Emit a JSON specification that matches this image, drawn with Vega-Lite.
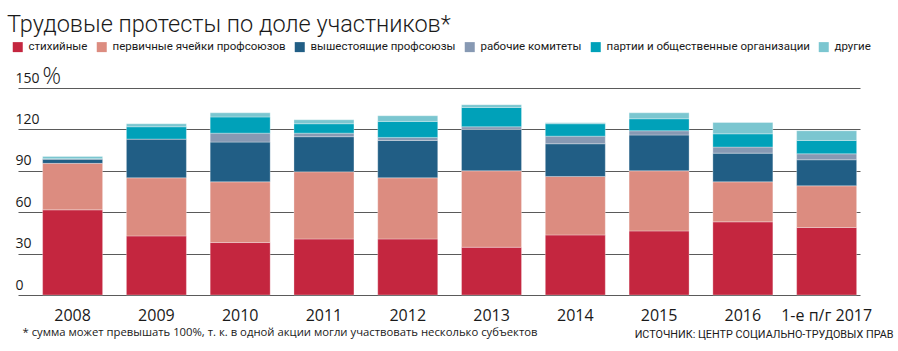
{
  "$schema": "https://vega.github.io/schema/vega-lite/v6.json",
  "autosize": "none",
  "width": 842,
  "height": 207,
  "padding": {"left": 18, "top": 88, "right": 38, "bottom": 56},
  "background": "white",
  "config": {"font": "Open Sans", "view": {"stroke": null}},
  "title": {
    "text": "Трудовые протесты по доле участников*",
    "anchor": "start",
    "frame": "group",
    "font": "Roboto",
    "fontSize": 23.5,
    "fontWeight": 300,
    "color": "#1a1a1a",
    "dx": -11,
    "dy": -1
  },
  "datasets": {
    "protests": [
      {"year": "2008", "type": "стихийные", "k": 1, "value": 61.7},
      {"year": "2008", "type": "первичные ячейки профсоюзов", "k": 2, "value": 33.7},
      {"year": "2008", "type": "вышестоящие профсоюзы", "k": 3, "value": 3.1},
      {"year": "2008", "type": "рабочие комитеты", "k": 4, "value": 0},
      {"year": "2008", "type": "партии и общественные организации", "k": 5, "value": 0.3},
      {"year": "2008", "type": "другие", "k": 6, "value": 1.6},
      {"year": "2009", "type": "стихийные", "k": 1, "value": 42.8},
      {"year": "2009", "type": "первичные ячейки профсоюзов", "k": 2, "value": 42.1},
      {"year": "2009", "type": "вышестоящие профсоюзы", "k": 3, "value": 28.1},
      {"year": "2009", "type": "рабочие комитеты", "k": 4, "value": 0},
      {"year": "2009", "type": "партии и общественные организации", "k": 5, "value": 8.9},
      {"year": "2009", "type": "другие", "k": 6, "value": 2.2},
      {"year": "2010", "type": "стихийные", "k": 1, "value": 38},
      {"year": "2010", "type": "первичные ячейки профсоюзов", "k": 2, "value": 44},
      {"year": "2010", "type": "вышестоящие профсоюзы", "k": 3, "value": 28.8},
      {"year": "2010", "type": "рабочие комитеты", "k": 4, "value": 6.5},
      {"year": "2010", "type": "партии и общественные организации", "k": 5, "value": 11.7},
      {"year": "2010", "type": "другие", "k": 6, "value": 3},
      {"year": "2011", "type": "стихийные", "k": 1, "value": 40.6},
      {"year": "2011", "type": "первичные ячейки профсоюзов", "k": 2, "value": 48.7},
      {"year": "2011", "type": "вышестоящие профсоюзы", "k": 3, "value": 25.4},
      {"year": "2011", "type": "рабочие комитеты", "k": 4, "value": 2.6},
      {"year": "2011", "type": "партии и общественные организации", "k": 5, "value": 6.8},
      {"year": "2011", "type": "другие", "k": 6, "value": 2.9},
      {"year": "2012", "type": "стихийные", "k": 1, "value": 40.6},
      {"year": "2012", "type": "первичные ячейки профсоюзов", "k": 2, "value": 44.3},
      {"year": "2012", "type": "вышестоящие профсоюзы", "k": 3, "value": 27.1},
      {"year": "2012", "type": "рабочие комитеты", "k": 4, "value": 2.2},
      {"year": "2012", "type": "партии и общественные организации", "k": 5, "value": 11.6},
      {"year": "2012", "type": "другие", "k": 6, "value": 4.1},
      {"year": "2013", "type": "стихийные", "k": 1, "value": 34.6},
      {"year": "2013", "type": "первичные ячейки профсоюзов", "k": 2, "value": 55.4},
      {"year": "2013", "type": "вышестоящие профсоюзы", "k": 3, "value": 30},
      {"year": "2013", "type": "рабочие комитеты", "k": 4, "value": 1.9},
      {"year": "2013", "type": "партии и общественные организации", "k": 5, "value": 14},
      {"year": "2013", "type": "другие", "k": 6, "value": 2},
      {"year": "2014", "type": "стихийные", "k": 1, "value": 43.5},
      {"year": "2014", "type": "первичные ячейки профсоюзов", "k": 2, "value": 42.4},
      {"year": "2014", "type": "вышестоящие профсоюзы", "k": 3, "value": 23.7},
      {"year": "2014", "type": "рабочие комитеты", "k": 4, "value": 5.5},
      {"year": "2014", "type": "партии и общественные организации", "k": 5, "value": 9},
      {"year": "2014", "type": "другие", "k": 6, "value": 0.7},
      {"year": "2015", "type": "стихийные", "k": 1, "value": 46.4},
      {"year": "2015", "type": "первичные ячейки профсоюзов", "k": 2, "value": 43.6},
      {"year": "2015", "type": "вышестоящие профсоюзы", "k": 3, "value": 25.9},
      {"year": "2015", "type": "рабочие комитеты", "k": 4, "value": 3.1},
      {"year": "2015", "type": "партии и общественные организации", "k": 5, "value": 8.7},
      {"year": "2015", "type": "другие", "k": 6, "value": 4.3},
      {"year": "2016", "type": "стихийные", "k": 1, "value": 53},
      {"year": "2016", "type": "первичные ячейки профсоюзов", "k": 2, "value": 29},
      {"year": "2016", "type": "вышестоящие профсоюзы", "k": 3, "value": 20.8},
      {"year": "2016", "type": "рабочие комитеты", "k": 4, "value": 4.4},
      {"year": "2016", "type": "партии и общественные организации", "k": 5, "value": 9.6},
      {"year": "2016", "type": "другие", "k": 6, "value": 8.2},
      {"year": "1-е п/г 2017", "type": "стихийные", "k": 1, "value": 48.9},
      {"year": "1-е п/г 2017", "type": "первичные ячейки профсоюзов", "k": 2, "value": 30.2},
      {"year": "1-е п/г 2017", "type": "вышестоящие профсоюзы", "k": 3, "value": 18.9},
      {"year": "1-е п/г 2017", "type": "рабочие комитеты", "k": 4, "value": 4.3},
      {"year": "1-е п/г 2017", "type": "партии и общественные организации", "k": 5, "value": 9.7},
      {"year": "1-е п/г 2017", "type": "другие", "k": 6, "value": 7}
    ],
    "unit": [{"sign": "%"}]
  },
  "layer": [
    {
      "data": {"name": "protests"},
      "mark": {"type": "bar", "stroke": "#ffffff", "strokeWidth": 0.5, "strokeOpacity": 0.6},
      "encoding": {
        "x": {
          "field": "year",
          "type": "nominal",
          "scale": {
            "domain": ["2008", "2009", "2010", "2011", "2012", "2013", "2014", "2015", "2016", "1-е п/г 2017"],
            "paddingInner": 0.284,
            "paddingOuter": 0.167,
            "align": 0.88
          },
          "axis": {
            "orient": "bottom",
            "labelAngle": 0,
            "labelFontSize": 16,
            "labelColor": "#1a1a1a",
            "labelPadding": 12,
            "ticks": false,
            "tickSize": 0,
            "domain": false,
            "title": "* сумма может превышать 100%, т. к. в одной акции могли участвовать несколько субъектов",
            "titleFontSize": 11.3,
            "titleFontWeight": "normal",
            "titleColor": "#1a1a1a",
            "titleAlign": "left",
            "titleAnchor": "start",
            "titleBaseline": "alphabetic",
            "titleX": 4,
            "titleY": 40
          }
        },
        "y": {
          "field": "value",
          "type": "quantitative",
          "stack": "zero",
          "scale": {"domain": [0, 150], "nice": false},
          "axis": {
            "values": [0, 30, 60, 90, 120, 150],
            "orient": "left",
            "grid": true,
            "gridColor": "#5a5a5a",
            "gridWidth": 1.2,
            "domain": false,
            "ticks": false,
            "tickSize": 0,
            "labelAlign": "left",
            "labelBaseline": "alphabetic",
            "labelPadding": 3,
            "labelOffset": -6,
            "labelFontSize": 14,
            "labelColor": "#1a1a1a",
            "title": "ИСТОЧНИК: ЦЕНТР СОЦИАЛЬНО-ТРУДОВЫХ ПРАВ",
            "titleFont": "Roboto",
            "titleAngle": 0,
            "titleAlign": "right",
            "titleBaseline": "alphabetic",
            "titleFontSize": 10.8,
            "titleFontWeight": "normal",
            "titleColor": "#1a1a1a",
            "titleX": 875,
            "titleY": 249
          }
        },
        "color": {
          "field": "type",
          "type": "nominal",
          "scale": {
            "domain": ["стихийные", "первичные ячейки профсоюзов", "вышестоящие профсоюзы", "рабочие комитеты", "партии и общественные организации", "другие"],
            "range": ["#c4263f", "#dc8c80", "#215e85", "#8799b3", "#00a1b9", "#7bc6d0"]
          },
          "legend": {
            "title": null,
            "orient": "none",
            "legendX": -6,
            "legendY": -47,
            "direction": "horizontal",
            "columns": 6,
            "symbolType": "square",
            "symbolSize": 100,
            "symbolStrokeWidth": 0,
            "symbolOpacity": 1,
            "labelFont": "Roboto",
            "labelFontSize": 11.5,
            "labelColor": "#1a1a1a",
            "labelOffset": 5,
            "columnPadding": 8,
            "labelLimit": 400
          }
        },
        "order": {"field": "k", "type": "quantitative", "sort": "ascending"}
      }
    },
    {
      "data": {"name": "unit"},
      "mark": {"type": "text", "align": "left", "baseline": "alphabetic", "dx": -30, "dy": -4, "fontSize": 23, "fontWeight": 300, "color": "#1a1a1a"},
      "encoding": {
        "x": {"datum": "2008", "type": "nominal"},
        "y": {"datum": 150, "type": "quantitative"},
        "text": {"field": "sign", "type": "nominal"}
      }
    }
  ]
}
